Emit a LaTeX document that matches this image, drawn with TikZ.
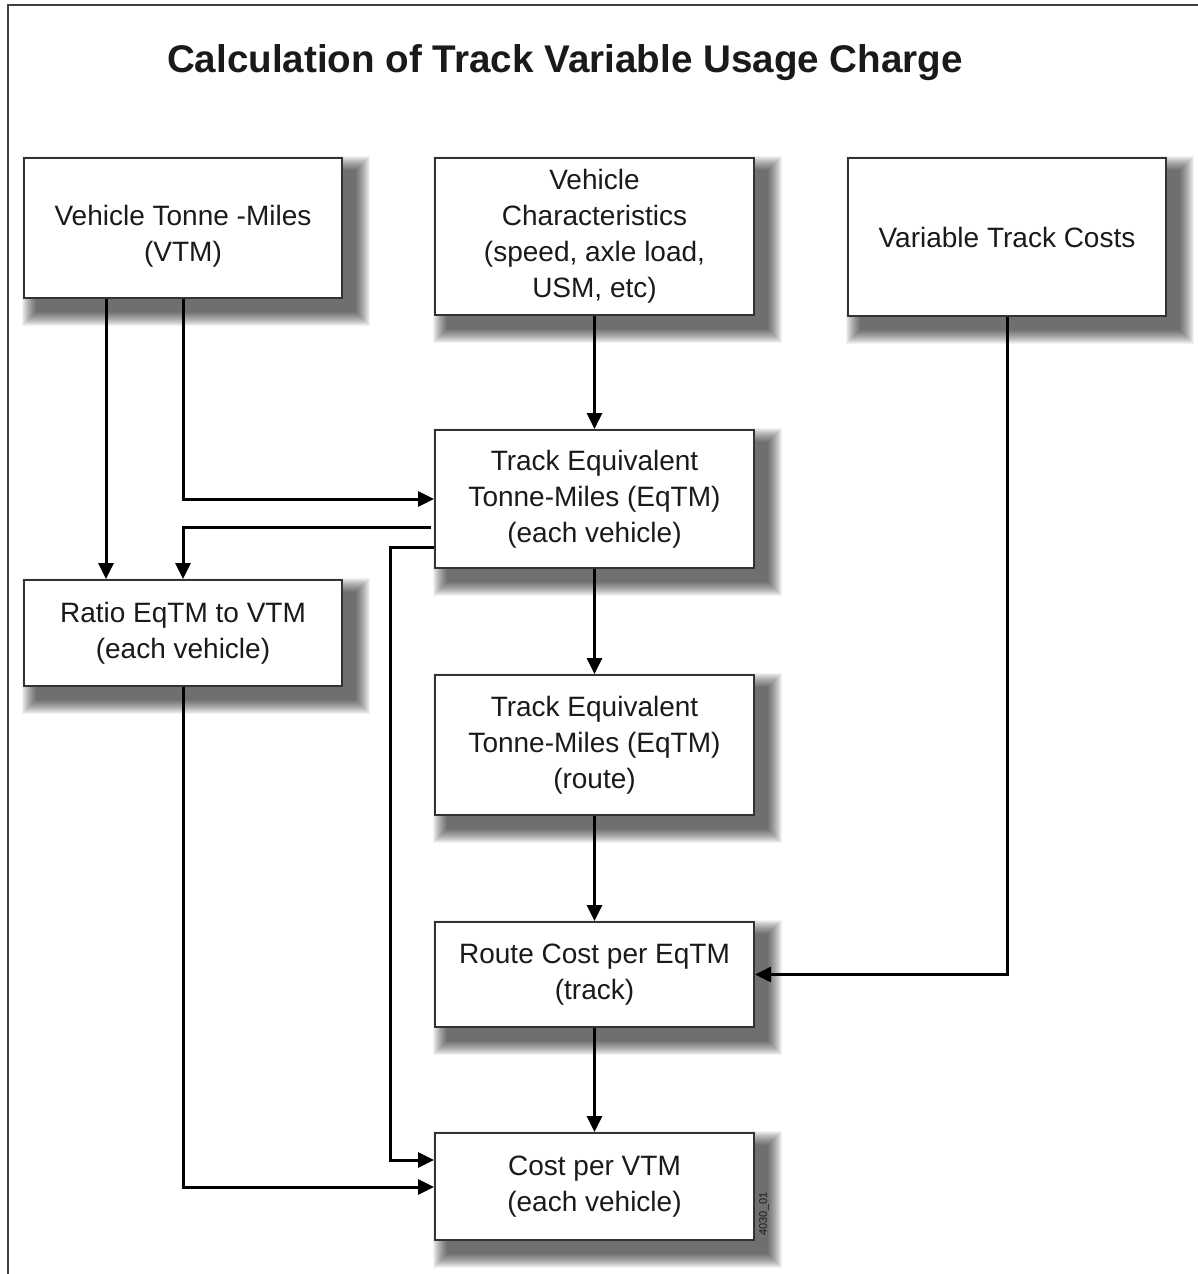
\documentclass[tikz,border=0pt]{standalone}
\usepackage{fontspec}
\setmainfont{Liberation Sans}
\usetikzlibrary{arrows.meta,calc,backgrounds}
\definecolor{boxline}{HTML}{333333}
\definecolor{txt}{HTML}{1A1A1A}
\begin{document}
\begin{tikzpicture}[x=1pt,y=-1pt,
  box/.style={draw=boxline, line width=2pt, fill=white, rectangle, inner sep=0pt,
    align=center, text=txt, font=\fontsize{28}{36}\selectfont},
  arr/.style={line width=3pt, draw=black, -{Triangle[length=16pt,width=15pt]}}]
\useasboundingbox (0,0) rectangle (1198,1274);
\draw[line width=2pt, draw=black!75] (8,1274) -- (8,5) -- (1198,5);

\node[anchor=base, font=\fontsize{38.6}{40}\selectfont\bfseries, text=txt] (title) at (565,72) {Calculation of Track Variable Usage Charge};

\node[box, minimum width=318pt, minimum height=140pt] (vtm) at (183,228) {\raisebox{-15pt}[0pt][0pt]{\begin{tabular}{@{}c@{}}Vehicle Tonne -Miles\\(VTM)\end{tabular}}};
\node[box, minimum width=319pt, minimum height=157pt] (vchar) at (594.5,236.5) {Vehicle\\Characteristics\\(speed, axle load,\\USM, etc)};
\node[box, minimum width=318pt, minimum height=158pt] (vtc) at (1007,237) {Variable Track Costs};
\node[box, minimum width=319pt, minimum height=138pt] (teq) at (594.5,499) {Track Equivalent\\Tonne-Miles (EqTM)\\(each vehicle)};
\node[box, minimum width=318pt, minimum height=106pt] (ratio) at (183,633) {Ratio EqTM to VTM\\(each vehicle)};
\node[box, minimum width=319pt, minimum height=140pt] (route) at (594.5,745) {Track Equivalent\\Tonne-Miles (EqTM)\\(route)};
\node[box, minimum width=319pt, minimum height=105pt] (rcost) at (594.5,974.5) {Route Cost per EqTM\\(track)};
\node[box, minimum width=319pt, minimum height=107pt] (cvtm) at (594.5,1186.5) {Cost per VTM\\(each vehicle)};

\node[rotate=90, font=\fontsize{11}{11}\selectfont, text=txt, inner sep=0pt] (tag) at (764,1214) {4030\_01};

\begin{scope}[on background layer]
\fill[white] (0,0) rectangle (1198,1274);
\foreach \n in {vtm,vchar,vtc,teq,ratio,route,rcost,cvtm}{
  \foreach \r in {0,1,...,14}{
    \fill[black, opacity=0.05] ($(\n.north west)+(13-\r,13-\r)$) rectangle ($(\n.south east)+(13+\r,13+\r)$);
  }
}
\end{scope}

\draw[arr] ([xshift=-77pt]vtm.south) -- ([xshift=-77pt]ratio.north);
\draw[arr] (vtm.south) |- (teq.west);
\draw[arr] ([xshift=-3pt,yshift=-28pt]teq.west) -| (ratio.north);
\draw[arr] ([yshift=-48pt]teq.west) -- ++(-44,0) |- ([yshift=26.5pt]cvtm.west);
\draw[arr] (ratio.south) |- ([yshift=-0.5pt]cvtm.west);
\draw[arr] (vchar.south) -- (teq.north);
\draw[arr] (teq.south) -- (route.north);
\draw[arr] (route.south) -- (rcost.north);
\draw[arr] (rcost.south) -- (cvtm.north);
\draw[arr] (vtc.south) |- (rcost.east);
\end{tikzpicture}
\end{document}
